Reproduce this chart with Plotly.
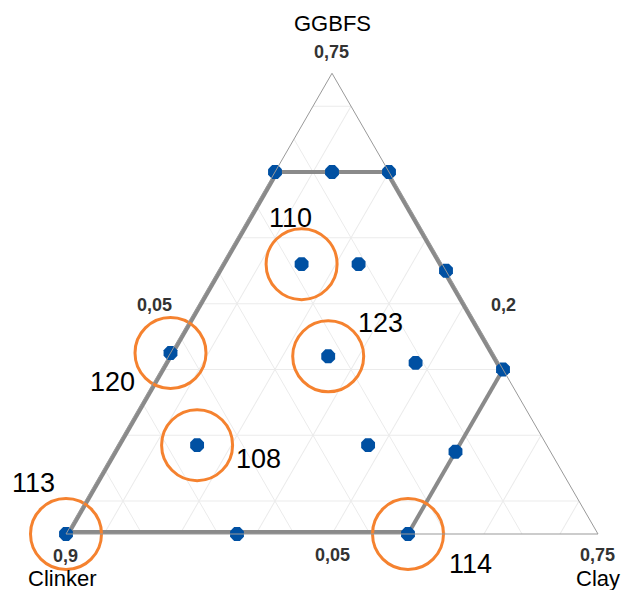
import plotly.graph_objects as go

# Mixture design points (percent): GGBFS, Clinker, Clay
ggbfs   = [5.0, 5.0, 5.0, 32.5, 60.0, 60.0, 60.0, 45.0, 30.0, 17.5, 32.0, 18.5, 46.0, 46.0, 31.0, 18.5]
clinker = [90.0, 67.5, 45.0, 62.5, 35.0, 27.5, 20.0, 20.0, 20.0, 32.5, 42.0, 66.0, 38.5, 31.0, 31.0, 43.5]
clay    = [5.0, 27.5, 50.0, 5.0, 5.0, 12.5, 20.0, 35.0, 50.0, 50.0, 26.0, 15.5, 15.5, 23.0, 38.0, 38.0]

# Constrained region boundary (vertices, closed)
reg_ggbfs   = [5.0, 60.0, 60.0, 30.0, 5.0, 5.0]
reg_clinker = [90.0, 35.0, 20.0, 20.0, 45.0, 90.0]
reg_clay    = [5.0, 5.0, 20.0, 50.0, 50.0, 5.0]

# Highlighted runs
hl_ids     = ["113", "120", "110", "123", "108", "114"]
hl_ggbfs   = [5.0, 32.5, 46.0, 32.0, 18.5, 5.0]
hl_clinker = [90.0, 62.5, 38.5, 42.0, 66.0, 45.0]
hl_clay    = [5.0, 5.0, 15.5, 26.0, 15.5, 50.0]

BLUE = "#0050a2"
ORANGE = "#f5822f"
GREY = "#8a8a8a"

AMIN, BMIN, CMIN = 5, 20, 5


def on_border(i, j):
    # segment lies on an edge of the (clipped) ternary triangle
    return ((reg_ggbfs[i] == AMIN and reg_ggbfs[j] == AMIN) or
            (reg_clinker[i] == BMIN and reg_clinker[j] == BMIN) or
            (reg_clay[i] == CMIN and reg_clay[j] == CMIN))


def segs(border):
    a, b, c = [], [], []
    for i in range(len(reg_ggbfs) - 1):
        j = i + 1
        if on_border(i, j) == border:
            a += [reg_ggbfs[i], reg_ggbfs[j], None]
            b += [reg_clinker[i], reg_clinker[j], None]
            c += [reg_clay[i], reg_clay[j], None]
    return a, b, c


fig = go.Figure()

# segments on the triangle edges are clipped to half width, so draw them wider
for border, width in [(True, 8), (False, 4)]:
    a, b, c = segs(border)
    fig.add_trace(go.Scatterternary(
        a=a, b=b, c=c, mode="lines", cliponaxis=False, connectgaps=False,
        line=dict(color=GREY, width=width), hoverinfo="skip", showlegend=False))

fig.add_trace(go.Scatterternary(
    a=hl_ggbfs, b=hl_clinker, c=hl_clay, mode="markers", cliponaxis=False,
    marker=dict(symbol="circle-open", size=71, color=ORANGE,
                line=dict(color=ORANGE, width=3)),
    text=hl_ids, hoverinfo="text", showlegend=False))

fig.add_trace(go.Scatterternary(
    a=ggbfs, b=clinker, c=clay, mode="markers", cliponaxis=False,
    marker=dict(symbol="octagon", size=15, color=BLUE, line=dict(width=0)),
    showlegend=False))

W, H = 622, 590
def px(x, y):
    return x / W, 1 - y / H

annots = []
def add(text, x, y, size, bold=False, color="#000000"):
    xx, yy = px(x, y)
    annots.append(dict(text=text, x=xx, y=yy, xref="paper", yref="paper",
                       showarrow=False, xanchor="center", yanchor="middle",
                       font=dict(size=size, color=color,
                                 family="Liberation Sans, Arial, sans-serif",
                                 weight="bold" if bold else "normal")))

# component names
add("GGBFS", 332, 23, 22)
add("Clinker", 62, 578, 22)
add("Clay", 598, 578, 22)
# vertex / edge values
add("0,75", 331, 52, 18, True, "#333333")
add("0,9", 65, 556, 18, True, "#333333")
add("0,75", 597, 555, 18, True, "#333333")
add("0,05", 154, 305, 18, True, "#333333")
add("0,2", 503, 305, 18, True, "#333333")
add("0,05", 332, 555, 18, True, "#333333")
# run labels
run_label_pos = [(33, 483), (112, 382), (290, 218), (380, 323), (258, 459), (470, 564)]
for t, (x, y) in zip(hl_ids, run_label_pos):
    add(t, x, y, 27)

y0 = 1 - 534 / H
y1 = y0 + 532 * 0.8660254 / H
axis_common = dict(showticklabels=False, ticks="", showgrid=True,
                   gridcolor="#ebebeb", gridwidth=1, dtick=10, tick0=0,
                   showline=True, linecolor="#999999", linewidth=1,
                   title=dict(text=""))

fig.update_layout(
    width=W, height=H,
    margin=dict(l=0, r=0, t=0, b=0),
    paper_bgcolor="white", plot_bgcolor="white",
    ternary=dict(
        sum=100,
        domain=dict(x=[66 / W, 598 / W], y=[y0, y1]),
        bgcolor="white",
        aaxis=dict(min=AMIN, **axis_common),
        baxis=dict(min=BMIN, **axis_common),
        caxis=dict(min=CMIN, **axis_common),
    ),
    annotations=annots,
)

fig.write_html("out.html", config={"displayModeBar": False},
               post_script="document.body.style.margin='0px';")
